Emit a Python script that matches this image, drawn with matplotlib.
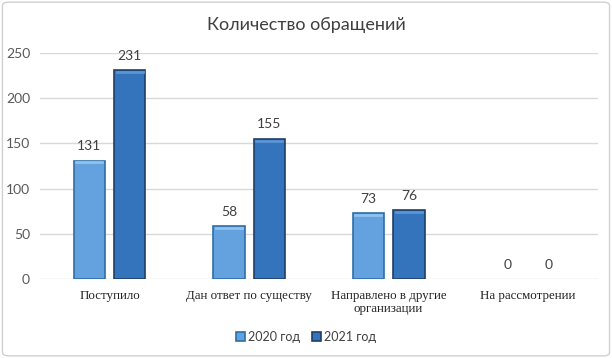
import numpy as np
import matplotlib.pyplot as plt
from matplotlib.patches import FancyBboxPatch

categories = ['Поступило', 'Дан ответ по существу', 'Направлено в другие\nорганизации', 'На рассмотрении']
values_2020 = [131, 58, 73, 0]
values_2021 = [231, 155, 76, 0]
series_names = ['2020 год', '2021 год']

col_2020 = '#64A2DF'
col_2021 = '#3474BC'
edge_2020 = '#2E6FA8'
edge_2021 = '#1F3F66'

fig = plt.figure(figsize=(6.12, 3.58), dpi=100)
ax = fig.add_axes([0.065, 0.221, 0.912, 0.631])

# light rounded frame around the whole chart
frame = FancyBboxPatch((0.004, 0.006), 0.992, 0.988, boxstyle='round,pad=0,rounding_size=0.01',
                       transform=fig.transFigure, fill=False, edgecolor='#D0D0D0', lw=1)
fig.patches.append(frame)

x = np.arange(len(categories))
w = 0.225
gap = 0.065

b1 = ax.bar(x - (w + gap) / 2, values_2020, w, color=col_2020, edgecolor=edge_2020, lw=1.2,
            label=series_names[0], zorder=3)
b2 = ax.bar(x + (w + gap) / 2, values_2021, w, color=col_2021, edgecolor=edge_2021, lw=1.2,
            label=series_names[1], zorder=3)

# simple bevel highlight on top of each bar; hide empty bars
for bars, hl in ((b1, '#8EC3F0'), (b2, '#5A95D6')):
    for r in bars:
        if r.get_height() > 0:
            ax.plot([r.get_x() + 0.02, r.get_x() + r.get_width() - 0.02],
                    [r.get_height() - 2, r.get_height() - 2], color=hl, lw=2, zorder=4)
        else:
            r.set_linewidth(0)

for bars in (b1, b2):
    ax.bar_label(bars, padding=6, fontsize=10, color='#404040', fontfamily='Lato')

ax.set_xlim(-0.5, len(categories) - 0.5)
ax.set_ylim(0, 250)
ax.set_yticks(range(0, 251, 50))
ax.grid(axis='y', color='#D9D9D9', lw=1, zorder=0)
for s in ax.spines.values():
    s.set_visible(False)
ax.tick_params(axis='y', length=0, labelsize=10, labelcolor='#595959', pad=7)
ax.tick_params(axis='x', length=0, pad=8)
ax.set_yticklabels([str(v) for v in range(0, 251, 50)], fontfamily='Lato')
ax.set_xticks(x)
ax.set_xticklabels(categories, fontfamily='Liberation Serif', fontsize=9.3, color='#222222',
                   linespacing=1.1)

fig.text(0.5, 0.93, 'Количество обращений', ha='center', va='center', fontsize=13,
         color='#404040', fontfamily='Lato')

leg = fig.legend(handles=[b1, b2], loc='center', bbox_to_anchor=(0.5, 0.06), ncol=2,
                 frameon=False, handlelength=0.7, handleheight=0.7,
                 handletextpad=0.2, columnspacing=1.0, prop={'family': 'Lato', 'size': 9})
for t in leg.get_texts():
    t.set_color('#404040')

fig.savefig('out.png', dpi=100)
